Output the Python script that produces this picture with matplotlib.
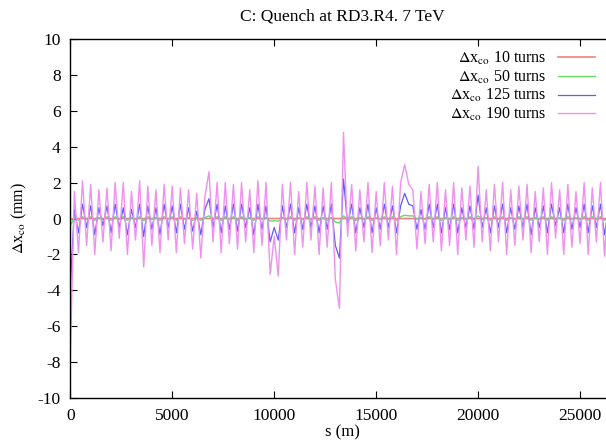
import matplotlib
matplotlib.use("Agg")
import matplotlib.pyplot as plt
import numpy as np

plt.rcParams['font.family'] = ['Liberation Serif', 'DejaVu Serif']
plt.rcParams['mathtext.fontset'] = 'stix'
plt.rcParams['axes.unicode_minus'] = False

# position along the ring (m), one sample every 200 m
s_m = np.arange(0, 26700, 200)

turns_190 = [-7.7, 1.5, -1.9, 2.1, -1.5, 1.9, -2.0, 1.6, -1.3, 1.7,
             -1.8, 2.0, -1.1, 2.0, -2.0, 1.5, -1.2, 2.1, -2.7, 1.8,
             -1.5, 1.6, -1.9, 1.9, -1.2, 1.8, -1.9, 1.7, -1.4, 1.6,
             -1.7, 1.4, -2.2, 1.2, 2.6, -1.3, 2.0, -1.9, 2.0, -1.4,
             1.9, -1.7, 2.0, -1.3, 1.6, -1.9, 2.1, -1.5, 2.0, -3.1,
             -1.0, -3.2, 1.9, -1.2, 2.0, -2.0, 1.5, -1.6, 2.0, -1.2,
             1.8, -2.0, 1.7, -1.6, 2.0, -3.4, -5.0, 4.8, -1.0, 1.9,
             -1.8, 1.6, -1.3, 2.0, -1.9, 1.5, -1.5, 2.0, -1.2, 1.8,
             -2.0, 2.0, 3.0, 1.9, 1.6, -1.7, 1.5, -1.4, 1.9, -1.3,
             2.0, -1.8, 1.6, -1.5, 2.0, -2.0, 1.7, -1.2, 1.8, -1.6,
             2.9, -1.3, 1.6, -1.8, 1.9, -1.3, 2.0, -2.0, 1.6, -1.5,
             1.8, -1.2, 1.9, -1.9, 1.5, -1.3, 1.7, -2.0, 2.0, -1.1,
             1.6, -2.0, 1.9, -1.6, 1.5, -1.4, 2.0, -2.0, 1.7, -1.3,
             2.0, -2.1, 1.6, -1.2]

turns_125 = [-3.8, 0.5, -0.8, 0.8, -0.5, 0.7, -0.9, 0.6, -0.4, 0.7,
             -0.8, 0.8, -0.5, 0.6, -0.9, 0.5, -0.5, 0.8, -1.0, 0.7,
             -0.6, 0.6, -0.9, 0.8, -0.5, 0.7, -0.8, 0.8, -0.6, 0.6,
             -0.7, 0.4, -0.9, 0.5, 1.1, -0.5, 0.8, -0.8, 0.7, -0.6,
             0.8, -0.7, 0.8, -0.5, 0.6, -0.9, 0.8, -0.6, 0.7, -1.3,
             -0.5, -1.2, 0.7, -0.5, 0.8, -0.8, 0.6, -0.6, 0.8, -0.5,
             0.7, -0.8, 0.7, -0.6, 0.8, -1.5, -2.2, 2.2, -0.4, 0.8,
             -0.8, 0.6, -0.5, 0.8, -0.8, 0.6, -0.6, 0.8, -0.5, 0.7,
             -0.8, 0.7, 1.4, 0.8, 0.7, -0.6, 0.5, -0.6, 0.8, -0.5,
             0.8, -0.8, 0.6, -0.6, 0.8, -0.8, 0.6, -0.5, 0.7, -0.6,
             1.3, -0.5, 0.6, -0.8, 0.7, -0.5, 0.8, -0.8, 0.6, -0.6,
             0.7, -0.5, 0.8, -0.9, 0.6, -0.5, 0.7, -0.8, 0.8, -0.4,
             0.6, -0.8, 0.8, -0.6, 0.6, -0.5, 0.8, -0.8, 0.7, -0.5,
             0.8, -0.9, 0.6, -0.5]

turns_50 = [-0.4, 0.05, -0.1, 0.1, -0.05, 0.1, -0.1, 0.05, -0.05, 0.1,
            -0.1, 0.1, -0.05, 0.1, -0.1, 0.05, -0.05, 0.1, -0.12, 0.1,
            -0.05, 0.05, -0.1, 0.1, -0.05, 0.1, -0.1, 0.1, -0.05, 0.05,
            -0.1, 0.05, -0.1, 0.05, 0.15, -0.05, 0.1, -0.1, 0.1, -0.05,
            0.1, -0.1, 0.1, -0.05, 0.05, -0.1, 0.1, -0.05, 0.05, -0.15,
            -0.12, -0.15, 0.05, -0.05, 0.1, -0.1, 0.05, -0.05, 0.1, -0.05,
            0.1, -0.1, 0.05, -0.1, 0.05, -0.2, -0.25, 0.15, -0.05, 0.1,
            -0.1, 0.05, -0.05, 0.1, -0.1, 0.05, -0.05, 0.1, -0.05, 0.1,
            -0.1, 0.1, 0.18, 0.15, 0.15, -0.05, 0.05, -0.05, 0.1, -0.05,
            0.1, -0.1, 0.05, -0.05, 0.1, -0.1, 0.05, -0.05, 0.1, -0.05,
            0.15, -0.05, 0.05, -0.1, 0.1, -0.05, 0.1, -0.1, 0.05, -0.05,
            0.1, -0.05, 0.1, -0.1, 0.05, -0.05, 0.1, -0.1, 0.1, -0.05,
            0.05, -0.1, 0.1, -0.05, 0.05, -0.05, 0.1, -0.1, 0.1, -0.05,
            0.1, -0.1, 0.05, -0.05]

s_10 = [0, 200, 400, 26600]
turns_10 = [-0.05, 0.0, 0.0, 0.0]

fig = plt.figure(figsize=(6.06, 4.41), dpi=100)
ax = fig.add_axes([0.116, 0.097, 0.897, 0.815])

ax.plot(s_10, turns_10, color='#f08080', lw=1.2, label=r'$\Delta$x$_{\mathrm{co}}$ 10 turns')
ax.plot(s_m, turns_50, color='#66dd66', lw=1.0, label=r'$\Delta$x$_{\mathrm{co}}$ 50 turns')
ax.plot(s_m, turns_125, color='#5c5cff', lw=0.9, label=r'$\Delta$x$_{\mathrm{co}}$ 125 turns')
ax.plot(s_m, turns_190, color='#f090f0', lw=1.0, label=r'$\Delta$x$_{\mathrm{co}}$ 190 turns')

ax.set_xlim(0, 26659)
ax.set_ylim(-10, 10)
ax.set_xticks(np.arange(0, 26000, 5000))
ax.set_yticks(np.arange(-10, 11, 2))
ax.tick_params(direction='in', top=True, right=True, length=5, labelsize=12.5, pad=7)
for sp in ax.spines.values():
    sp.set_linewidth(1.0)

ax.set_title('C: Quench at RD3.R4. 7 TeV', fontsize=12.5, pad=13)
ax.set_xlabel('s (m)', fontsize=12, labelpad=0)
ax.set_ylabel(r'$\Delta$x$_{\mathrm{co}}$ (mm)', fontsize=11.5, labelpad=6)

leg = ax.legend(loc='upper right', bbox_to_anchor=(0.985, 1.0), frameon=False,
                markerfirst=False, fontsize=11.5, handlelength=2.3,
                labelspacing=0.1, handletextpad=0.7, borderaxespad=0.3)

fig.savefig('out.png', dpi=100)
